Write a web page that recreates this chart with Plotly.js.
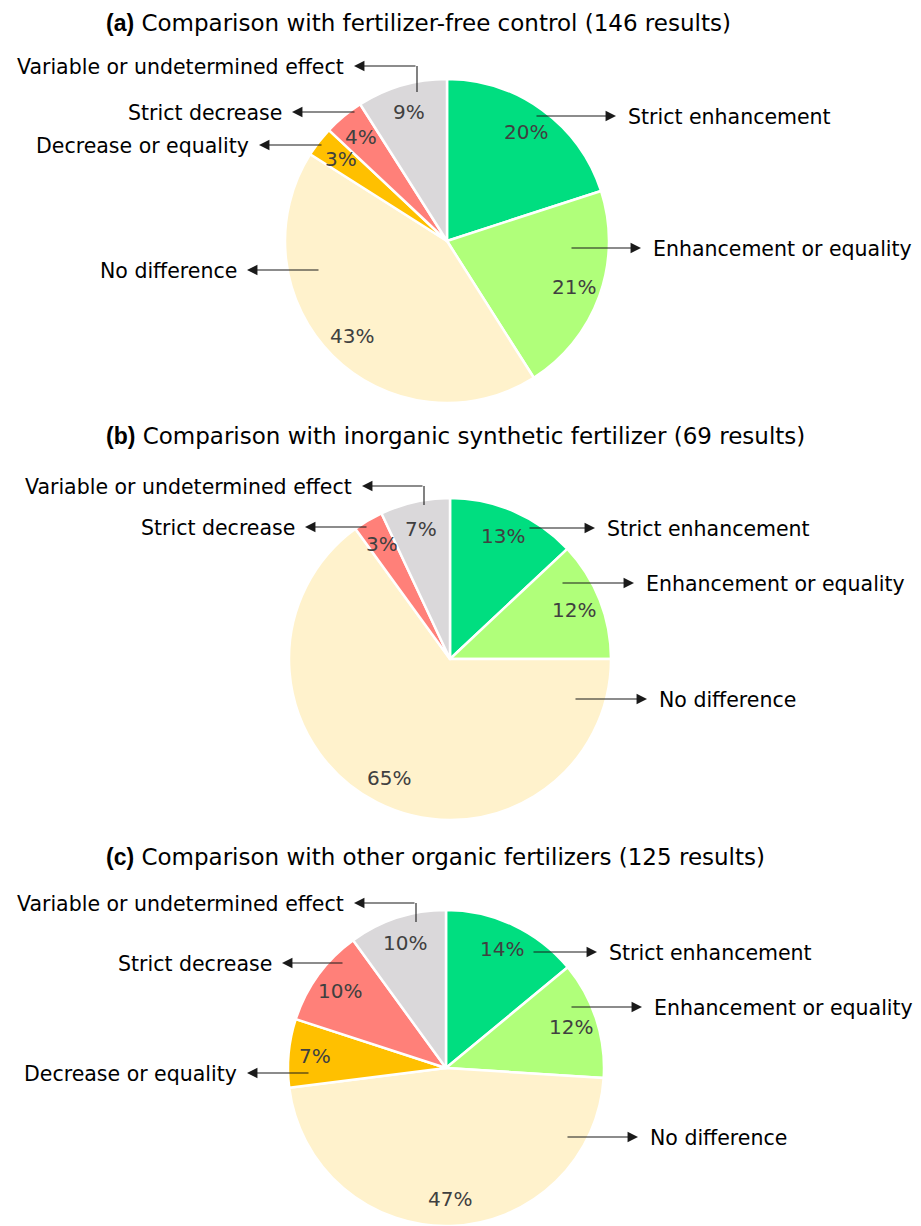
<!DOCTYPE html>
<html>
<head>
<meta charset="utf-8">
<script src="https://cdn.plot.ly/plotly-3.0.1.min.js"></script>
<style>html,body{margin:0;padding:0;background:#fff;}#chart{width:921px;height:1226px;}</style>
</head>
<body>
<div id="chart"></div>
<script>
// ---------- data ----------
const categories = ['Strict enhancement', 'Enhancement or equality', 'No difference',
                    'Decrease or equality', 'Strict decrease', 'Variable or undetermined effect'];
const valuesA = [20, 21, 43, 3, 4, 9];     // (a) vs fertilizer-free control, 146 results
const valuesB = [13, 12, 65, 0, 3, 7];     // (b) vs inorganic synthetic fertilizer, 69 results
const valuesC = [14, 12, 47, 7, 10, 10];   // (c) vs other organic fertilizers, 125 results
const titles = [
  '<span style="font-family:Liberation Sans;font-weight:bold">(a)</span> Comparison with fertilizer-free control (146 results)',
  '<span style="font-family:Liberation Sans;font-weight:bold">(b)</span> Comparison with inorganic synthetic fertilizer (69 results)',
  '<span style="font-family:Liberation Sans;font-weight:bold">(c)</span> Comparison with other organic fertilizers (125 results)'
];
const colors = ['#00DE80', '#B0FF7A', '#FFF2CC', '#FFC000', '#FF8079', '#DAD8DA'];

// ---------- layout helpers ----------
const W = 921, H = 1226;
const FONT = 'DejaVu Sans, sans-serif';
const px = x => x / W;
const py = y => 1 - y / H;

// pie geometry (pixel positions of each pie)
const pies = [
  {values: valuesA, cx: 447, cy: 241, r: 162, titleY: 23},
  {values: valuesB, cx: 450, cy: 659, r: 161, titleY: 436},
  {values: valuesC, cx: 446, cy: 1068, r: 158, titleY: 857}
];

// callout placement for each category in each pie: [side, headX, headY, tailX, tailY, elbowY]
const callouts = [
  [
    ['right', 616, 116, 535, 116],
    ['right', 641, 248, 570, 248],
    ['left', 247, 270, 320, 270],
    ['left', 259, 145, 323, 145],
    ['left', 292, 112, 356, 112],
    ['left', 354, 66, 417, 66, 92]
  ],
  [
    ['right', 595, 528, 528, 528],
    ['right', 634, 583, 561, 583],
    ['right', 647, 699, 574, 699],
    null,
    ['left', 305, 527, 368, 527],
    ['left', 362, 486, 424, 486, 505]
  ],
  [
    ['right', 597, 952, 532, 952],
    ['right', 642, 1007, 570, 1007],
    ['right', 638, 1137, 566, 1137],
    ['left', 247, 1073, 310, 1073],
    ['left', 282, 963, 344, 963],
    ['left', 354, 903, 416, 903, 922]
  ]
];

const traces = [];
const annotations = [];
const shapes = [];

pies.forEach((p, k) => {
  const labs = [], vals = [], cols = [];
  p.values.forEach((v, i) => { if (v > 0) { labs.push(categories[i]); vals.push(v); cols.push(colors[i]); } });
  const yTop = Math.min(1, 1 - (p.cy - p.r) / H);
  const yBot = Math.max(0, 1 - (p.cy + p.r) / H);
  traces.push({
    type: 'pie', labels: labs, values: vals, sort: false, direction: 'clockwise', rotation: 0,
    marker: {colors: cols, line: {color: '#ffffff', width: 2.5}},
    textinfo: 'none', hoverinfo: 'label+percent', showlegend: false,
    domain: {x: [px(p.cx - p.r), px(p.cx + p.r)], y: [yBot, yTop]}
  });

  // title
  annotations.push({
    xref: 'paper', yref: 'paper', x: px(104), y: py(p.titleY), xanchor: 'left', yanchor: 'middle',
    text: titles[k], showarrow: false, font: {family: FONT, size: 23, color: '#000'}
  });

  // percentage labels at slice mid-angles
  const total = p.values.reduce((a, b) => a + b, 0);
  let cum = 0;
  p.values.forEach((v, i) => {
    if (v <= 0) return;
    const mid = 2 * Math.PI * (cum + v / 2) / total;
    cum += v;
    const rr = 0.83 * p.r;
    annotations.push({
      xref: 'paper', yref: 'paper', x: px(p.cx + rr * Math.sin(mid)), y: py(p.cy - rr * Math.cos(mid)),
      xanchor: 'center', yanchor: 'middle', showarrow: false, text: v + '%',
      font: {family: FONT, size: 20, color: '#404040'}
    });
  });

  // callouts
  callouts[k].forEach((c, i) => {
    if (!c || p.values[i] <= 0) return;
    const [side, hx, hy, tx, ty, ey] = c;
    annotations.push({
      xref: 'paper', yref: 'paper', x: px(hx), y: py(hy), ax: tx - hx, ay: ty - hy, axref: 'pixel', ayref: 'pixel',
      text: '', showarrow: true, arrowhead: 2, arrowsize: 1.9, arrowwidth: 1.1, arrowcolor: '#1a1a1a', standoff: 0
    });
    if (ey !== undefined) {
      shapes.push({type: 'line', xref: 'paper', yref: 'paper', x0: px(tx), x1: px(tx), y0: py(ty), y1: py(ey),
        line: {color: '#1a1a1a', width: 1.1}});
    }
    annotations.push({
      xref: 'paper', yref: 'paper', x: px(side === 'right' ? hx + 10 : hx - 8), y: py(hy + 1),
      xanchor: side === 'right' ? 'left' : 'right', yanchor: 'middle', showarrow: false,
      text: categories[i], font: {family: FONT, size: 20.5, color: '#000'}
    });
  });
});

const layout = {
  width: W, height: H, margin: {l: 0, r: 0, t: 0, b: 0},
  paper_bgcolor: '#fff', plot_bgcolor: '#fff', showlegend: false,
  annotations: annotations, shapes: shapes
};

Plotly.newPlot('chart', traces, layout, {displayModeBar: false, staticPlot: true});
</script>
</body>
</html>
